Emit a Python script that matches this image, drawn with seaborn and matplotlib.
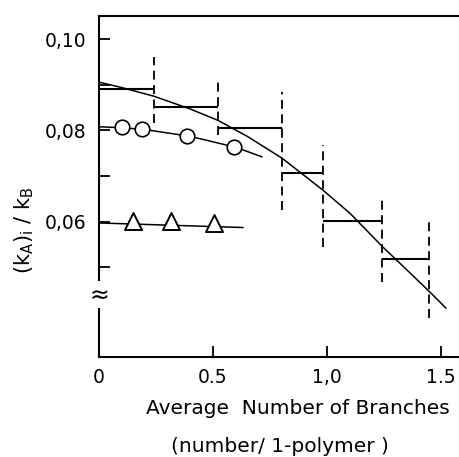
import matplotlib
matplotlib.use("Agg")
import matplotlib.pyplot as plt
import seaborn as sns
import pandas as pd

# smooth fitted curve through the step data
curve_x = [0.0, 0.10, 0.241, 0.40, 0.522, 0.65, 0.803, 0.982, 1.101, 1.241, 1.35, 1.452, 1.522]
curve_y = [0.0906, 0.0894, 0.0875, 0.0847, 0.0822, 0.0787, 0.0739, 0.0669, 0.0618, 0.0546, 0.0494, 0.0445, 0.0410]

# circles and their fitted line
circ_x = [0.10, 0.19, 0.385, 0.59]
circ_y = [0.0807, 0.0804, 0.0787, 0.0764]
circ_line_x = [0.0, 0.10, 0.20, 0.40, 0.60, 0.715]
circ_line_y = [0.0808, 0.0806, 0.0802, 0.0787, 0.0763, 0.0742]

# triangles and their line
tri_x = [0.15, 0.315, 0.505]
tri_y = [0.0601, 0.0602, 0.0597]
tri_line_x = [0.0, 0.632]
tri_line_y = [0.0597, 0.0587]

# step bins (horizontal) and dashed range lines at the bin edges
step_left = [0.0, 0.246, 0.522, 0.805, 0.982, 1.241]
step_right = [0.241, 0.522, 0.803, 0.982, 1.241, 1.447]
step_y = [0.0890, 0.0851, 0.0805, 0.0706, 0.0601, 0.0518]
range_lo = [0.0816, 0.0790, 0.0625, 0.0544, 0.0467, 0.0388]
range_hi = [0.0961, 0.0910, 0.0884, 0.0768, 0.0653, 0.0599]

yticks = [0.06, 0.08, 0.10]
ytick_labels = ["0,06", "0,08", "0,10"]
yminor = [0.05, 0.07, 0.09]
xticks = [0, 0.5, 1.0, 1.5]
xtick_labels = ["0", "0.5", "1,0", "1.5"]

sns.set_style("ticks")
plt.rcParams['font.family'] = ['DejaVu Sans']
plt.rcParams['mathtext.default'] = 'regular'
plt.rcParams['text.color'] = 'black'
plt.rcParams['xtick.color'] = 'black'
plt.rcParams['ytick.color'] = 'black'

fig = plt.figure(figsize=(4.6, 4.57), dpi=100)
ax = fig.add_axes([99 / 460, 1 - 357 / 457, 1 - 99 / 460, 341 / 457])

sns.lineplot(x=curve_x, y=curve_y, ax=ax, color='black', lw=1.1, sort=False, estimator=None)
sns.lineplot(x=circ_line_x, y=circ_line_y, ax=ax, color='black', lw=1.1, sort=False, estimator=None)
sns.lineplot(x=tri_line_x, y=tri_line_y, ax=ax, color='black', lw=1.1, sort=False, estimator=None)

ax.hlines(step_y, step_left, step_right, color='black', lw=1.5)
ax.vlines(step_right, range_lo, range_hi, color='black', lw=1.3, linestyles=(0, (5, 3)))

circ = pd.DataFrame({"x": circ_x, "y": circ_y})
tri = pd.DataFrame({"x": tri_x, "y": tri_y})
sns.scatterplot(data=circ, x="x", y="y", ax=ax, marker='o', s=110, facecolor='white',
                edgecolor='black', linewidth=1.2, zorder=5)
sns.scatterplot(data=tri, x="x", y="y", ax=ax, marker='^', s=150, facecolor='white',
                edgecolor='black', linewidth=1.4, zorder=5)

ax.set_xlim(0, 1.583)
ax.set_ylim(0.0303, 0.1051)
ax.set_xlabel("")
ax.set_ylabel("")

# axis frame with broken y axis
ax.spines['right'].set_visible(False)
for s in ['left', 'bottom', 'top']:
    ax.spines[s].set_visible(True)
    ax.spines[s].set_linewidth(1.5)
    ax.spines[s].set_color('black')
ax.spines['left'].set_bounds(0.0471, 0.1051)
ax.plot([0, 0], [0.0303, 0.0410], color='black', lw=1.5, clip_on=False, solid_capstyle='butt')
ax.text(0, 0.0438, "≈", ha='center', va='center', fontsize=17)

ax.set_yticks(yticks)
ax.set_yticklabels(ytick_labels)
ax.set_yticks(yminor, minor=True)
ax.set_xticks(xticks)
ax.set_xticklabels(xtick_labels)
ax.tick_params(axis='both', which='both', direction='in', length=8, width=1.3,
               color='black', labelcolor='black', labelsize=13.5,
               left=True, bottom=True, top=False, right=False)
ax.tick_params(axis='y', which='both', pad=9)
ax.tick_params(axis='x', pad=8)

fig.text(24 / 460, 1 - 230 / 457, r"$(k_A)_i\ /\ k_B$", rotation=90, ha='center', va='center',
         fontsize=15)
fig.text(298 / 460, 1 - 409 / 457, "Average  Number of Branches", ha='center', va='center',
         fontsize=14.5)
fig.text(280 / 460, 1 - 447 / 457, "(number/ 1-polymer )", ha='center', va='center',
         fontsize=14.5)

fig.savefig("out.png", dpi=100)
